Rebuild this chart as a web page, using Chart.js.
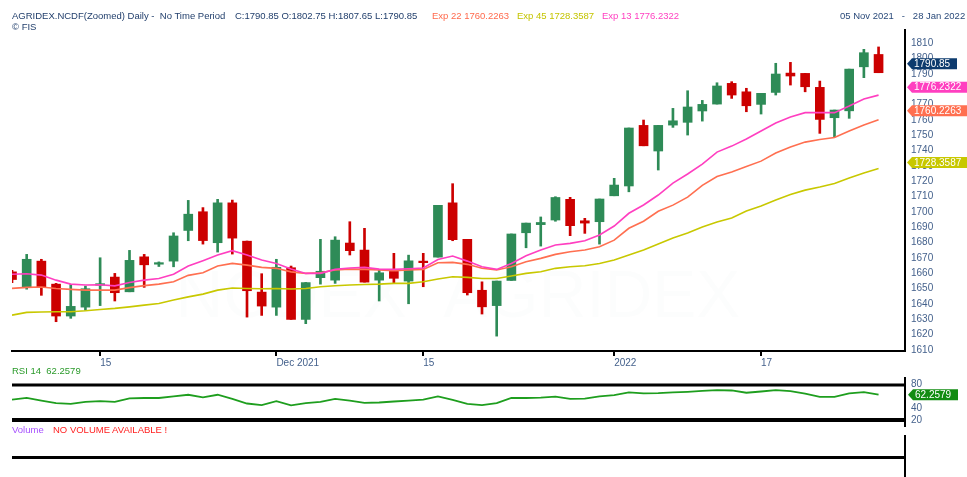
<!DOCTYPE html>
<html>
<head>
<meta charset="utf-8">
<script src="https://cdn.jsdelivr.net/npm/chart.js@4.4.1/dist/chart.umd.min.js"></script>
<style>
  body { margin: 0; background: #fff; width: 967px; height: 477px; overflow: hidden; position: relative; font-family: "Liberation Sans", Arial, sans-serif; }
  canvas { position: absolute; left: 0; }
  .t { position: absolute; font-size: 9.5px; line-height: 12px; white-space: pre; }
  .ln { position: absolute; background: #000; }
</style>
</head>
<body>
<canvas id="main" width="967" height="370" style="top:0"></canvas>
<canvas id="rsi" width="967" height="60" style="top:372px"></canvas>

<div class="t" id="title" style="left:12px;top:10px;color:#23406d"></div>
<div class="t" id="ohlc" style="left:235px;top:10px;color:#23406d"></div>
<div class="t" id="e22" style="left:432px;top:10px;color:#ff6a4d"></div>
<div class="t" id="e45" style="left:517px;top:10px;color:#c4c400"></div>
<div class="t" id="e13" style="left:602px;top:10px;color:#ff3fc0"></div>
<div class="t" style="left:12px;top:21px;color:#23406d">© FIS</div>
<div class="t" style="left:840px;top:10px;color:#2a4a7a">05 Nov 2021   -   28 Jan 2022</div>
<div class="t" id="rsiLabel" style="left:12px;top:365px;color:#2a9a2a"></div>
<div class="t" style="left:12px;top:424px;color:#a650ff">Volume</div>
<div class="t" style="left:53px;top:424px;color:#ff2020">NO VOLUME AVAILABLE !</div>
<div class="ln" style="left:12px;top:456px;width:893px;height:3px"></div>
<div class="ln" style="left:904px;top:435px;width:2px;height:42px"></div>

<script>
// trading days shown
const days = [
  "2021-11-05","2021-11-08","2021-11-09","2021-11-10","2021-11-11","2021-11-12","2021-11-15","2021-11-16","2021-11-17","2021-11-18",
  "2021-11-19","2021-11-22","2021-11-23","2021-11-24","2021-11-25","2021-11-26","2021-11-29","2021-11-30","2021-12-01","2021-12-02",
  "2021-12-03","2021-12-06","2021-12-07","2021-12-08","2021-12-09","2021-12-10","2021-12-13","2021-12-14","2021-12-15","2021-12-16",
  "2021-12-17","2021-12-20","2021-12-21","2021-12-22","2021-12-23","2021-12-24","2021-12-27","2021-12-28","2021-12-29","2021-12-30",
  "2021-12-31","2022-01-03","2022-01-04","2022-01-05","2022-01-06","2022-01-07","2022-01-10","2022-01-11","2022-01-12","2022-01-13",
  "2022-01-14","2022-01-17","2022-01-18","2022-01-19","2022-01-20","2022-01-21","2022-01-24","2022-01-25","2022-01-27","2022-01-28"
];

const open = [
  1661, 1651.3, 1668, 1653, 1632.2, 1638, 1652.3, 1657.6, 1648, 1670.8,
  1666, 1668, 1688, 1700.2, 1680, 1706, 1681, 1647.8, 1638, 1663.7,
  1630, 1657.2, 1655.6, 1679.8, 1675.2, 1655.6, 1661.3, 1655, 1668, 1670.6,
  1706, 1682.2, 1649, 1639, 1655.4, 1686.5, 1691.8, 1694.8, 1708.3, 1694.3,
  1693.7, 1710.6, 1717, 1756.5, 1739.8, 1756.7, 1758.5, 1765.9, 1770.4, 1783.9,
  1778.4, 1770.2, 1778, 1790.6, 1790.4, 1781.3, 1761.5, 1766, 1794.7, 1802.75
];
const high = [
  1662, 1672.4, 1669.2, 1653.5, 1652.8, 1651.7, 1670.2, 1660, 1675, 1672.4,
  1667.5, 1686.5, 1707.6, 1702.9, 1708.3, 1707.8, 1681.1, 1659.8, 1669.2, 1664.8,
  1654.1, 1682.2, 1683.9, 1693.7, 1689.4, 1662.2, 1673.1, 1671.9, 1673.1, 1704.4,
  1718.5, 1682.2, 1654.5, 1655, 1685.7, 1692.8, 1696.8, 1710, 1709.6, 1695.9,
  1708.5, 1722, 1754.8, 1760, 1756.5, 1767.6, 1779.1, 1772.8, 1784.3, 1785,
  1780.7, 1777.4, 1797, 1797.6, 1790.4, 1785.4, 1766.5, 1793.2, 1806.1, 1807.65
];
const low = [
  1654, 1649.7, 1645.7, 1628.5, 1630.7, 1636, 1639, 1642, 1648, 1650.9,
  1664.5, 1664.3, 1681.3, 1679.1, 1673.9, 1672.6, 1631.5, 1632.6, 1632.6, 1630,
  1627.2, 1653, 1653.5, 1672, 1654.3, 1642, 1653.9, 1640.2, 1651.3, 1670.6,
  1681.3, 1645.9, 1633.5, 1619.1, 1655.4, 1676.7, 1677.8, 1694, 1684.6, 1686.1,
  1679.1, 1710.6, 1713.2, 1743.2, 1727.4, 1755.2, 1750.2, 1759.3, 1770.4, 1774.1,
  1765.4, 1763.9, 1776.3, 1782.8, 1778.4, 1751.3, 1749.1, 1761.1, 1787.6, 1790.85
];
const close = [
  1656, 1669.2, 1651.3, 1632.2, 1638.5, 1650, 1653.3, 1647.4, 1668.5, 1665.6,
  1667, 1684.4, 1698.6, 1681.4, 1706, 1683, 1648.7, 1638.7, 1664, 1630,
  1654, 1661.4, 1681.7, 1674.8, 1654.3, 1660.4, 1656.8, 1668.2, 1667, 1704.4,
  1682, 1647.4, 1638.2, 1655, 1685.7, 1692.8, 1693.2, 1709.5, 1691.1, 1692.8,
  1708.5, 1717.6, 1754.8, 1743.2, 1756.5, 1759.5, 1768.5, 1770.2, 1782.2, 1776.3,
  1769.3, 1777.4, 1790, 1788.7, 1781.7, 1760.4, 1766.5, 1793.2, 1803.9, 1790.85
];

const ema13 = [
  1659.4, 1659.8, 1658.9, 1655.6, 1653, 1652.4, 1652.6, 1651.9, 1654.1, 1655.6,
  1656.7, 1659.4, 1664.8, 1668.3, 1672, 1674.8, 1672, 1668.7, 1666.5, 1662.8,
  1660, 1660, 1662.6, 1663.5, 1663.9, 1662.8, 1662.6, 1663, 1663.5, 1669.1,
  1671.3, 1668, 1664.3, 1662.6, 1666.5, 1671.5, 1675.2, 1678.5, 1679.6, 1681.3,
  1685, 1690.9, 1699.2, 1704.6, 1711.1, 1718.9, 1724.8, 1731.3, 1739.1, 1743,
  1747.6, 1752.8, 1758, 1762, 1764.8, 1764.8, 1764.8, 1769.1, 1773.7, 1776.2322
];
const ema22 = [
  1650.2, 1650.9, 1651.1, 1650.2, 1649.6, 1649.1, 1649.1, 1649.1, 1650.7, 1652,
  1653, 1654.5, 1658.7, 1660.4, 1664.8, 1666.5, 1665.4, 1663.9, 1663.3, 1661,
  1660, 1660.4, 1662.2, 1662.8, 1662.6, 1662.2, 1661.7, 1662.2, 1662.6, 1666.9,
  1667.2, 1665.9, 1663.3, 1662.2, 1664.3, 1667.6, 1669.8, 1672.4, 1674.1, 1675.2,
  1677.4, 1681.7, 1689.4, 1694, 1700.5, 1704.5, 1709.7, 1717.4, 1723.2, 1726.1,
  1729.7, 1733.2, 1738.5, 1742.4, 1745.6, 1747.3, 1748.6, 1752.8, 1756.7, 1760.2263
];
const ema45 = [
  1632.8, 1634.6, 1634.8, 1635, 1635, 1635.6, 1636.5, 1637.2, 1638.2, 1639.3,
  1640.4, 1642.6, 1644.7, 1646.5, 1649.1, 1650.5, 1650.2, 1650, 1650.2, 1649.8,
  1650.2, 1651.3, 1651.9, 1652.4, 1652.8, 1653, 1653.5, 1653.5, 1654.5, 1656.3,
  1657.8, 1657.4, 1656.7, 1656.7, 1658.3, 1660, 1661.1, 1663.3, 1664.3, 1665,
  1666.5, 1668.7, 1672, 1675.2, 1679.1, 1683.1, 1686.3, 1690.2, 1693.5, 1696.1,
  1700.7, 1704, 1707.9, 1711.4, 1714.3, 1716.3, 1718.6, 1722.2, 1725.4, 1728.3587
];

const rsi14 = [
  54.0, 56.7, 52.4, 48.1, 47.0, 50.2, 51.3, 50.2, 56.2, 56.7,
  56.7, 59.4, 62.1, 57.8, 62.1, 55.1, 47.5, 44.8, 51.3, 44.3,
  48.1, 50.2, 55.1, 52.4, 48.6, 49.2, 50.8, 52.4, 54.0, 59.4,
  53.5, 47.0, 44.8, 48.1, 56.7, 56.7, 57.3, 58.9, 55.1, 55.7,
  59.4, 61.6, 65.9, 64.3, 64.8, 65.9, 67.0, 68.6, 69.7, 69.2,
  65.4, 67.5, 69.7, 68.1, 63.8, 58.4, 58.4, 64.3, 66.5, 62.2579
];

const yTicks = [1610, 1620, 1630, 1640, 1650, 1660, 1670, 1680, 1690, 1700, 1710,
  1720, 1730, 1740, 1750, 1760, 1770, 1780, 1790, 1800, 1810];
const rsiTicks = [20, 40, 80];
const xTickDays = ["2021-11-15", "2021-12-01", "2021-12-15", "2022-01-03", "2022-01-17"];
const xTickText = ["15", "Dec 2021", "15", "2022", "17"];

const UP = "#2e8b57", DOWN = "#cc0000";
const PINK = "#ff3fc0", ORANGE = "#ff6f50", YELLOW = "#c8c800", NAVY = "#0d3b6e";
const AXIS_TXT = "#44618c";
const last = days.length - 1;
const xMax = 60.8;
const tickIdx = xTickDays.map(d => days.indexOf(d));

// header texts
document.getElementById("title").textContent = "AGRIDEX.NCDF(Zoomed) Daily -  No Time Period";
document.getElementById("ohlc").textContent =
  `C:${close[last].toFixed(2)} O:${open[last].toFixed(2)} H:${high[last].toFixed(2)} L:${low[last].toFixed(2)}`;
document.getElementById("e22").textContent = "Exp 22 " + ema22[last];
document.getElementById("e45").textContent = "Exp 45 " + ema45[last];
document.getElementById("e13").textContent = "Exp 13 " + ema13[last];
document.getElementById("rsiLabel").textContent = "RSI 14  " + rsi14[last];

const candleColour = (ctx) => (close[ctx.dataIndex] >= open[ctx.dataIndex] ? UP : DOWN);

function drawTag(ctx, x, y, text, bg, w) {
  const h = 11;
  ctx.save();
  ctx.fillStyle = bg;
  ctx.beginPath();
  ctx.moveTo(x, y);
  ctx.lineTo(x + 5, y - h / 2);
  ctx.lineTo(x + w, y - h / 2);
  ctx.lineTo(x + w, y + h / 2);
  ctx.lineTo(x + 5, y + h / 2);
  ctx.closePath();
  ctx.fill();
  ctx.fillStyle = "#fff";
  ctx.font = '10px "Liberation Sans", Arial, sans-serif';
  ctx.textBaseline = "middle";
  ctx.fillText(text, x + 7, y + 0.5);
  ctx.restore();
}

// faint watermark behind the candles
const watermark = {
  id: "watermark",
  beforeDatasetsDraw(chart) {
    const ctx = chart.ctx;
    ctx.save();
    ctx.font = '66px "Liberation Sans", Arial, sans-serif';
    ctx.fillStyle = "rgba(0,70,45,0.012)";
    ctx.textAlign = "center";
    ctx.textBaseline = "alphabetic";
    ctx.fillText("NCDEX  AGRIDEX", 458, 317);
    ctx.restore();
  }
};

// value tags on the right side
const priceTags = {
  id: "priceTags",
  afterDraw(chart) {
    const y = chart.scales.y;
    const x0 = chart.chartArea.right + 2;
    const tags = [
      [close[last], close[last].toFixed(2), NAVY, 50, 9],
      [ema13[last], String(ema13[last]), PINK, 62, 8],
      [ema22[last], String(ema22[last]), ORANGE, 62, 9],
      [ema45[last], String(ema45[last]), YELLOW, 62, 6],
    ];
    tags.forEach(([v, txt, col, w, lift]) => drawTag(chart.ctx, x0, y.getPixelForValue(v) - lift, txt, col, w));
  }
};

// 📈 MAIN PRICE CHART
new Chart(document.getElementById("main"), {
  type: "bar",
  data: {
    datasets: [
      { type: "line", label: "Exp 13", data: ema13.map((v, i) => ({ x: i, y: v })), borderColor: PINK, borderWidth: 1.6, pointRadius: 0, order: 0 },
      { type: "line", label: "Exp 22", data: ema22.map((v, i) => ({ x: i, y: v })), borderColor: ORANGE, borderWidth: 1.6, pointRadius: 0, order: 0 },
      { type: "line", label: "Exp 45", data: ema45.map((v, i) => ({ x: i, y: v })), borderColor: YELLOW, borderWidth: 1.6, pointRadius: 0, order: 0 },
      {
        label: "body",
        data: days.map((d, i) => ({ x: i, y: [open[i], close[i]] })),
        backgroundColor: candleColour,
        barThickness: 9,
        grouped: false,
        clip: 0,
        order: 1,
      },
      {
        label: "wick",
        data: days.map((d, i) => ({ x: i, y: [low[i], high[i]] })),
        backgroundColor: candleColour,
        barThickness: 2,
        grouped: false,
        clip: 0,
        order: 2,
      },
    ],
  },
  options: {
    responsive: false,
    animation: false,
    layout: { padding: { left: 12, top: 30, right: 0, bottom: 0 } },
    plugins: { legend: { display: false }, tooltip: { enabled: false } },
    scales: {
      x: {
        type: "linear",
        min: 0,
        max: xMax,
        offset: false,
        afterBuildTicks: (s) => { s.ticks = tickIdx.map((v) => ({ value: v })); },
        afterFit: (s) => { s.height = 19; },
        ticks: {
          autoSkip: false,
          maxRotation: 0,
          align: "start",
          padding: 1,
          color: AXIS_TXT,
          font: { family: "Liberation Sans", size: 10 },
          callback: (v) => xTickText[tickIdx.indexOf(v)],
        },
        grid: { offset: false, drawOnChartArea: false, drawTicks: true, tickLength: 5, color: "#000", lineWidth: 2 },
        border: { display: true, color: "#000", width: 2 },
      },
      y: {
        position: "right",
        min: 1609.4,
        max: 1818.7,
        afterBuildTicks: (s) => { s.ticks = yTicks.map((v) => ({ value: v })); },
        afterFit: (s) => { s.width = 62; },
        ticks: { padding: 6, color: AXIS_TXT, font: { family: "Liberation Sans", size: 10 }, callback: (v) => String(v) },
        grid: { display: false, drawTicks: false },
        border: { display: true, color: "#000", width: 2 },
      },
    },
  },
  plugins: [watermark, priceTags],
});

// RSI panel frame and tag
const rsiFrame = {
  id: "rsiFrame",
  beforeDatasetsDraw(chart) {
    const { left, right, top, bottom } = chart.chartArea;
    const ctx = chart.ctx;
    ctx.save();
    ctx.strokeStyle = "#000";
    ctx.lineWidth = 3;
    ctx.beginPath(); ctx.moveTo(left, top + 1); ctx.lineTo(right, top + 1); ctx.stroke();
    ctx.lineWidth = 4;
    ctx.beginPath(); ctx.moveTo(left, bottom); ctx.lineTo(right, bottom); ctx.stroke();
    ctx.lineWidth = 2;
    ctx.beginPath(); ctx.moveTo(right, 5); ctx.lineTo(right, 55); ctx.stroke();
    ctx.restore();
  },
  afterDraw(chart) {
    const y = chart.scales.y.getPixelForValue(rsi14[last]);
    drawTag(chart.ctx, chart.chartArea.right + 3, y, String(rsi14[last]), "#128c12", 50);
  }
};

// 📊 RSI
new Chart(document.getElementById("rsi"), {
  type: "line",
  data: {
    datasets: [{
      label: "RSI 14",
      data: rsi14.map((v, i) => ({ x: i, y: v })),
      borderColor: "#1e9e1e",
      borderWidth: 1.8,
      pointRadius: 0,
    }],
  },
  options: {
    responsive: false,
    animation: false,
    layout: { padding: { left: 12, top: 12, right: 0, bottom: 11 } },
    plugins: { legend: { display: false }, tooltip: { enabled: false } },
    scales: {
      x: { type: "linear", min: 0, max: xMax, display: false },
      y: {
        position: "right",
        min: 20,
        max: 80,
        afterBuildTicks: (s) => { s.ticks = rsiTicks.map((v) => ({ value: v })); },
        afterFit: (s) => { s.width = 62; },
        ticks: { padding: 6, color: AXIS_TXT, font: { family: "Liberation Sans", size: 10 } },
        grid: { display: false, drawTicks: false },
        border: { display: false },
      },
    },
  },
  plugins: [rsiFrame],
});
</script>
</body>
</html>
